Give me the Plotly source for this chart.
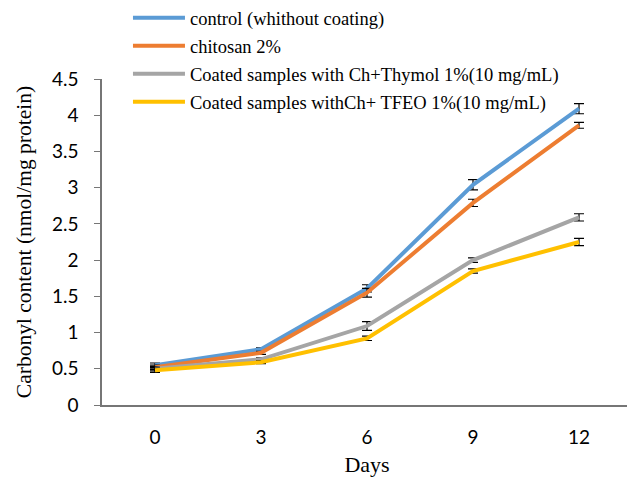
import plotly.graph_objects as go

days = ["0", "3", "6", "9", "12"]
series_names = [
    "control (whithout coating)",
    "chitosan 2%",
    "Coated samples with Ch+Thymol 1%(10 mg/mL)",
    "Coated samples withCh+ TFEO 1%(10 mg/mL)",
]
control = [0.55, 0.77, 1.61, 3.04, 4.09]
chitosan = [0.52, 0.72, 1.55, 2.79, 3.86]
thymol = [0.50, 0.63, 1.09, 2.00, 2.59]
tfeo = [0.48, 0.59, 0.92, 1.85, 2.25]
control_err = [0.03, 0.02, 0.05, 0.07, 0.07]
chitosan_err = [0.03, 0.02, 0.06, 0.05, 0.04]
thymol_err = [0.03, 0.02, 0.06, 0.03, 0.05]
tfeo_err = [0.03, 0.02, 0.03, 0.03, 0.05]
colors = ["#5B9BD5", "#ED7D31", "#A5A5A5", "#FFC000"]

values = [control, chitosan, thymol, tfeo]
errors = [control_err, chitosan_err, thymol_err, tfeo_err]

fig = go.Figure()
for name, vals, errs, col in zip(series_names, values, errors, colors):
    fig.add_trace(go.Scatter(
        x=days, y=vals, name=name, mode="lines",
        line=dict(color=col, width=4),
        error_y=dict(type="data", array=errs, visible=True,
                     color="black", thickness=1.2, width=5),
        legendgroup=name,
    ))

fig.update_layout(
    width=635, height=477,
    margin=dict(l=94, r=11, t=71, b=80, autoexpand=False),
    plot_bgcolor="white", paper_bgcolor="white",
    showlegend=True,
    legend=dict(
        x=0.049, y=1.245, xanchor="left", yanchor="top",
        font=dict(family="Liberation Serif", size=18.5, color="black"),
        bgcolor="rgba(0,0,0,0)", tracegroupgap=1, itemwidth=52,
    ),
    xaxis=dict(
        type="category", range=[-0.5, 4.5], automargin=False,
        showline=True, linecolor="#767676", linewidth=1.5,
        ticks="", showgrid=False, zeroline=False, ticklabelstandoff=14,
        tickfont=dict(family="Lato", size=19, color="black"),
        title=dict(text="Days", font=dict(family="Liberation Serif", size=22, color="black"), standoff=10),
    ),
    yaxis=dict(
        range=[0, 4.5], dtick=0.5, tickformat="~g", automargin=False,
        showline=True, linecolor="#767676", linewidth=1.5,
        ticks="outside", ticklen=6, tickcolor="#767676", ticklabelstandoff=12,
        showgrid=False, zeroline=False,
        tickfont=dict(family="Lato", size=19, color="black"),
        title=dict(text="Carbonyl content (nmol/mg protein)",
                   font=dict(family="Liberation Serif", size=21.5, color="black"), standoff=14),
    ),
)

fig.write_html("out.html")
